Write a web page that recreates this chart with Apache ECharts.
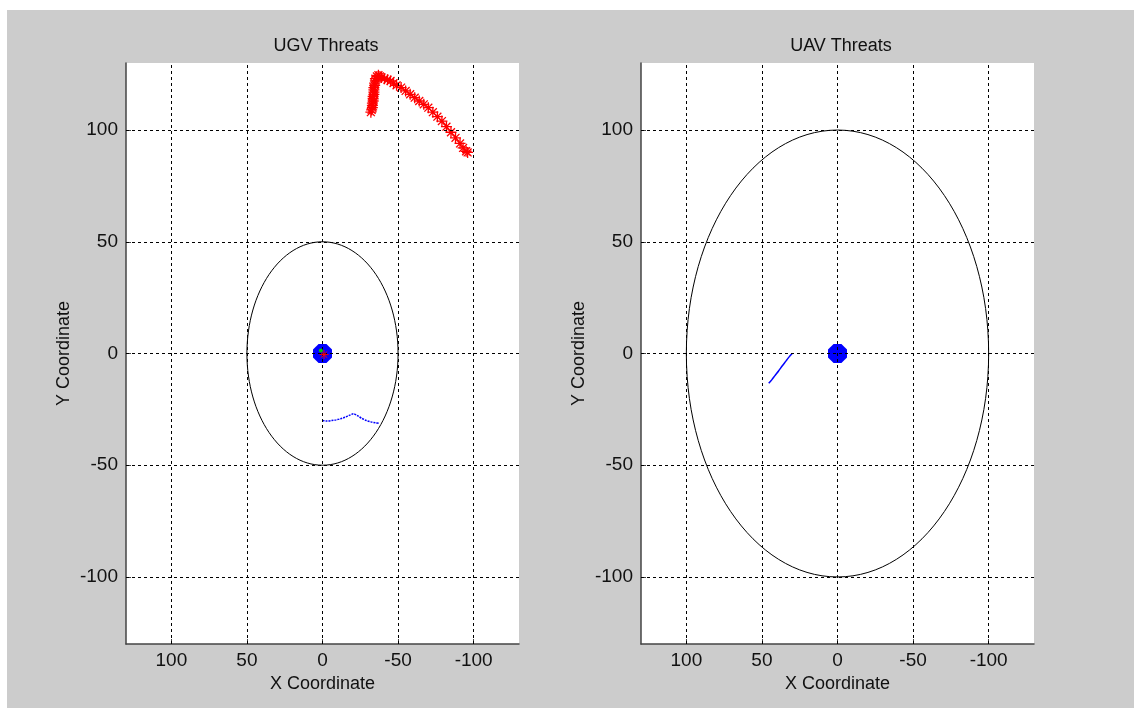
<!DOCTYPE html>
<html>
<head>
<meta charset="utf-8">
<script src="https://cdn.jsdelivr.net/npm/echarts@6/dist/echarts.min.js"></script>
<style>
  html, body { margin: 0; padding: 0; background: #ffffff; }
  #chart { position: absolute; left: 7px; top: 10px; width: 1127px; height: 698px; }
</style>
</head>
<body>
<div id="chart"></div>
<script>
// Tick positions shared by both panels
const tickValues = [-100, -50, 0, 50, 100];

// Threat radii (circle in data units)
const ugvRadius = 50;
const uavRadius = 100;

// Own vehicle position
const ownPos = [[0, 0]];

// UGV panel: red track of threat positions ('*' markers)
const ugvRedTrack = [
  [-32, 108], [-32.5, 109], [-33, 110], [-33, 111], [-33, 112], [-33.5, 113],
  [-33.5, 114], [-33.5, 115], [-34, 116], [-34, 117], [-34, 118], [-34, 119],
  [-34.5, 120], [-34.5, 121], [-35, 122], [-35, 123], [-36, 124], [-37, 124.5],
  [-38, 124], [-39, 123.5], [-41, 123], [-43, 122.5], [-45, 122], [-47, 121],
  [-49, 120], [-52, 119], [-55, 117.5], [-58, 116], [-61, 114.5], [-64, 113],
  [-67, 111.5], [-70, 110], [-73, 108], [-76, 106], [-79, 104], [-82, 101.5],
  [-85, 99], [-88, 96.5], [-91, 94], [-93, 92], [-95, 90.5], [-96, 90]
];

// UGV panel: blue path near the vehicle
const ugvBluePath = [
  [0, -30], [-3, -30.2], [-6, -30], [-9, -29.7], [-12, -29.2], [-15, -28.5],
  [-18, -27.6], [-20.5, -27], [-23, -27.8], [-26, -29], [-29, -30],
  [-32, -30.6], [-35, -31], [-37.5, -31.3]
];

// Small markers at the vehicle centre
const ugvRedCenter = [[-1, -0.5]];
const ugvGreenCenter = [[1.1, 1.3]];

// UAV panel: blue path
const uavBluePath = [
  [30, 0], [32, -1.5], [34, -3.3], [36.5, -5.5], [39, -7.8], [41.5, -10], [43.5, -11.8], [45.5, -13.3]
];

const FONT = 'Liberation Sans, Arial, sans-serif';
const asterisk = 'path://M0,-5L0,5M-5,0L5,0M-3.6,-3.6L3.6,3.6M-3.6,3.6L3.6,-3.6';
const octagon = 'path://M-0.414,-1L0.414,-1L1,-0.414L1,0.414L0.414,1L-0.414,1L-1,0.414L-1,-0.414Z';

function xAxisFor(idx) {
  return {
    gridIndex: idx, type: 'value', min: -130, max: 130, inverse: true,
    name: 'X Coordinate', nameLocation: 'middle', nameGap: 31,
    nameTextStyle: { fontFamily: FONT, fontSize: 18, color: '#111' },
    axisLine: { show: true, onZero: false, lineStyle: { color: '#444', width: 1.5 } },
    axisTick: { show: true, inside: true, length: 5, customValues: tickValues, lineStyle: { color: '#444' } },
    axisLabel: { customValues: tickValues, interval: 0, hideOverlap: false, fontFamily: FONT, fontSize: 19, color: '#111', margin: 7 },
    splitLine: { show: false }
  };
}
function yAxisFor(idx) {
  return {
    gridIndex: idx, type: 'value', min: -130, max: 130,
    name: 'Y Coordinate', nameLocation: 'middle', nameGap: 53, nameRotate: 90,
    nameTextStyle: { fontFamily: FONT, fontSize: 18, color: '#111' },
    axisLine: { show: true, onZero: false, lineStyle: { color: '#444', width: 1.5 } },
    axisTick: { show: true, inside: true, length: 5, customValues: tickValues, lineStyle: { color: '#444' } },
    axisLabel: { customValues: tickValues, interval: 0, hideOverlap: false, fontFamily: FONT, fontSize: 19, color: '#111', margin: 8, padding: [3, 0, 0, 0] },
    splitLine: { show: false }
  };
}

function gridLinesSeries(idx) {
  const lines = tickValues.map(v => ({ xAxis: v })).concat(tickValues.map(v => ({ yAxis: v })));
  return {
    type: 'scatter', xAxisIndex: idx, yAxisIndex: idx, data: [], z: 1, silent: true,
    markLine: {
      silent: true, symbol: ['none', 'none'], label: { show: false }, animation: false,
      lineStyle: { color: '#000', type: [3, 3], width: 1 },
      emphasis: { disabled: true },
      data: lines
    }
  };
}

function circleSeries(idx, r) {
  return {
    type: 'custom', xAxisIndex: idx, yAxisIndex: idx, z: 2, silent: true,
    data: [[0, 0, r]],
    renderItem: function (params, api) {
      const c = api.coord([api.value(0), api.value(1)]);
      const s = api.size([api.value(2), api.value(2)]);
      return {
        type: 'ellipse',
        shape: { cx: c[0], cy: c[1], rx: s[0], ry: s[1] },
        style: { fill: 'none', stroke: '#000', lineWidth: 1 }
      };
    }
  };
}

function ownSeries(idx) {
  return {
    type: 'scatter', xAxisIndex: idx, yAxisIndex: idx, z: 4, silent: true,
    symbol: octagon, symbolSize: 19, data: ownPos,
    itemStyle: { color: '#0000ff', opacity: 1 }
  };
}

const titleStyle = { fontFamily: FONT, fontSize: 18, fontWeight: 'normal', color: '#111' };

const option = {
  backgroundColor: '#cccccc',
  animation: false,
  title: [
    { text: 'UGV Threats', left: 314, top: 22, textAlign: 'center', textStyle: titleStyle },
    { text: 'UAV Threats', left: 829, top: 22, textAlign: 'center', textStyle: titleStyle }
  ],
  grid: [
    { left: 119, top: 53, width: 393, height: 581, backgroundColor: '#ffffff', show: true, borderWidth: 0 },
    { left: 634, top: 53, width: 393, height: 581, backgroundColor: '#ffffff', show: true, borderWidth: 0 }
  ],
  xAxis: [xAxisFor(0), xAxisFor(1)],
  yAxis: [yAxisFor(0), yAxisFor(1)],
  series: [
    gridLinesSeries(0),
    gridLinesSeries(1),
    circleSeries(0, ugvRadius),
    circleSeries(1, uavRadius),
    {
      type: 'line', xAxisIndex: 0, yAxisIndex: 0, z: 3, silent: true,
      data: ugvBluePath, showSymbol: false, smooth: 0.3,
      lineStyle: { color: '#0000ff', width: 1.5, type: [2, 1] }
    },
    {
      type: 'scatter', xAxisIndex: 0, yAxisIndex: 0, z: 3, silent: true,
      symbol: asterisk, symbolSize: 11, data: ugvRedTrack,
      itemStyle: { color: 'rgba(0,0,0,0)', borderColor: '#ff0000', borderWidth: 1.3, opacity: 1 }
    },
    ownSeries(0),
    {
      type: 'scatter', xAxisIndex: 0, yAxisIndex: 0, z: 5, silent: true,
      symbol: asterisk, symbolSize: 9, data: ugvRedCenter,
      itemStyle: { color: 'rgba(0,0,0,0)', borderColor: '#ff0000', borderWidth: 1, opacity: 1 }
    },
    {
      type: 'scatter', xAxisIndex: 0, yAxisIndex: 0, z: 6, silent: true,
      symbol: 'circle', symbolSize: 4, data: ugvGreenCenter,
      itemStyle: { color: '#00cc00', opacity: 1 }
    },
    {
      type: 'line', xAxisIndex: 1, yAxisIndex: 1, z: 3, silent: true,
      data: uavBluePath, showSymbol: false, smooth: 0.3,
      lineStyle: { color: '#0000ff', width: 1.5 }
    },
    ownSeries(1)
  ]
};

const chart = echarts.init(document.getElementById('chart'), null, { renderer: 'canvas' });
chart.setOption(option);
</script>
</body>
</html>
